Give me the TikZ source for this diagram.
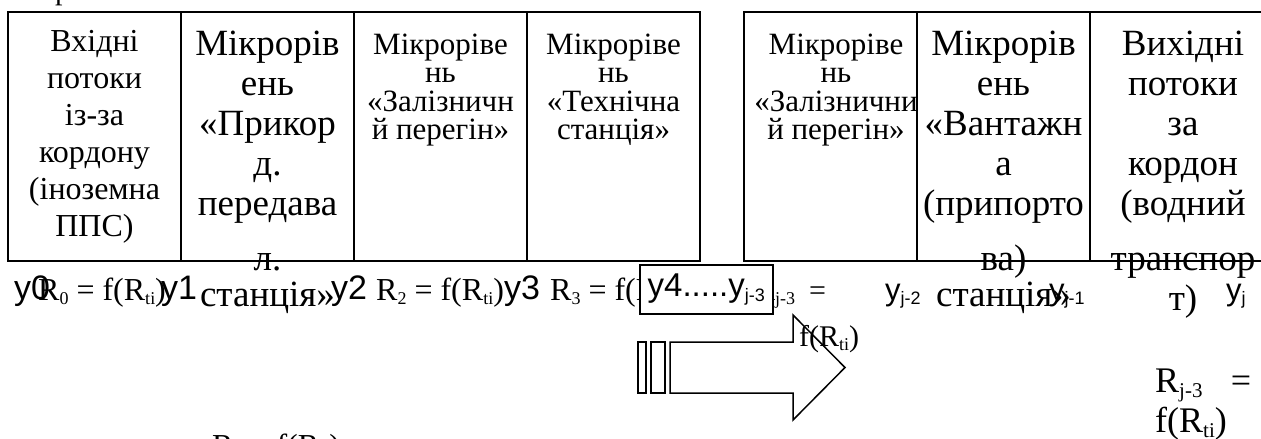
\documentclass[tikz,border=0pt]{standalone}
\usepackage{fontspec}
\setmainfont{Liberation Serif}
\newfontfamily\ysans{Liberation Sans}
\newcommand{\lowsub}[2][18]{\raisebox{-0.15em}{\fontsize{#1}{#1}\selectfont #2}}
\begin{document}
\begin{tikzpicture}[x=1pt,y=-1pt,
  cell/.style={draw, line width=1.5pt, rectangle, inner sep=0pt, outer sep=0pt,
    anchor=north west, minimum width=173pt, minimum height=249pt},
  coltext/.style={anchor=base, align=center, inner sep=0pt},
  smallcol/.style={coltext, font=\fontsize{31}{28.5}\selectfont},
  bigcol/.style={coltext, font=\fontsize{37}{40}\selectfont},
  ylab/.style={anchor=base west, inner sep=0pt, font=\fontsize{34}{34}\ysans},
  ylabs/.style={anchor=base west, inner sep=0pt, font=\fontsize{31}{31}\ysans},
  rlab/.style={anchor=base west, inner sep=0pt, font=\fontsize{32}{32}\selectfont},
  arrowline/.style={draw, line width=1.5pt, line join=miter}
]
\useasboundingbox (0,0) rectangle (1261,439);

% cells
\node[cell] (c1) at (8,12) {};
\node[cell] (c2) at (181,12) {};
\node[cell] (c3) at (354,12) {};
\node[cell] (c4) at (527,12) {};
\node[cell] (c5) at (744,12) {};
\node[cell] (c6) at (917,12) {};
\node[cell, minimum width=200pt] (c7) at (1090,12) {};

% partial text cut at the top
\node[rlab, font=\fontsize{30}{30}\selectfont] (topcut) at (55,-1) {р};

% column texts (anchor base = baseline of the last line)
\node[coltext, font=\fontsize{32}{37}\selectfont] (t1) at (94.5,236)
  {Вхідні\\потоки\\із-за\\кордону\\(іноземна\\ППС)};
\node[bigcol] (t2) at (267.5,306)
  {Мікрорів\\ень\\«Прикор\\д.\\передава\\[15pt]л.\\[-4pt]станція»};
\node[smallcol] (t3) at (440.5,139.5)
  {Мікроріве\\нь\\«Залізничн\\й перегін»};
\node[smallcol] (t4) at (613.5,139.5)
  {Мікроріве\\нь\\«Технічна\\станція»};
\node[smallcol] (t5) at (836,139.5)
  {Мікроріве\\нь\\«Залізнични\\й перегін»};
\node[bigcol] (t6) at (1003.5,306)
  {Мікрорів\\ень\\«Вантажн\\а\\(припорто\\[15pt]ва)\\[-4pt]станція»};
\node[bigcol] (t7) at (1183,310)
  {Вихідні\\потоки\\за\\кордон\\(водний\\[15pt]транспор\\т)};

% the long bottom line runs over the texts
\draw[line width=1.5pt] (c5.south west) -- ([xshift=30pt]c7.south east);

% row of labels
\node[ylab] (y0) at (14,299) {y0};
\node[rlab] (r0) at (38,300) {R\lowsub{0} = f(R\lowsub{ti})};
\node[ylab] (y1) at (161,299) {y1};
\node[ylab] (y2) at (331,299) {y2};
\node[rlab] (r2) at (376,300) {R\lowsub{2} = f(R\lowsub{ti})};
\node[ylab] (y3) at (504,299) {y3};
\node[rlab] (r3) at (550,300) {R\lowsub{3} = f(R\lowsub{ti})};
\node[rlab, align=left, font=\fontsize{30}{46}\selectfont] (rj3a) at (755,346)
  {R\lowsub{j-3}\hspace{14pt}=\\\hspace*{44pt}f(R\lowsub{ti})};
\node[draw, fill=white, line width=1.5pt, anchor=north west, inner sep=0pt,
  minimum width=133pt, minimum height=49pt, font=\fontsize{33}{33}\ysans] (y4) at (639,264)
  {y4.....y\lowsub{j-3}};
\node[ylabs] (yj2) at (885,300) {y\lowsub{j-2}};
\node[ylabs] (yj1) at (1049,300) {y\lowsub{j-1}};
\node[ylabs] (yj) at (1226,300) {y\lowsub{j}};
\node[rlab, align=left, text width=96pt, font=\fontsize{36}{40}\selectfont] (rj3b) at (1155,392)
  {R\lowsub[21]{j-3}\hfill=\\f(R\lowsub[21]{ti})};
\node[rlab] (r1) at (212,456) {R\lowsub{1} = f(R\lowsub{ti})};

% block arrow
\draw[arrowline] (638,342) rectangle (646,393);
\draw[arrowline] (651,342) rectangle (665,393);
\draw[arrowline] (670,342) -- (793,342) -- (793,315) -- (845,367.5)
  -- (793,420) -- (793,393) -- (670,393) -- cycle;
\end{tikzpicture}
\end{document}
